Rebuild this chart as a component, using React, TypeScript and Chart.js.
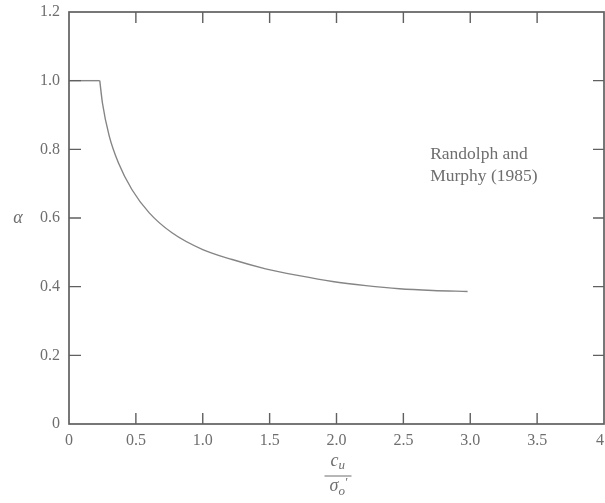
import React, { useEffect, useRef } from "react";
import { Chart, registerables } from "chart.js";

Chart.register(...registerables);

// Flat part of the curve (alpha = 1.0)
const flatX = [0, 0.23];
const flatY = [1.0, 1.0];

// Decaying part of the curve (Randolph and Murphy, 1985)
const curveX = [0.23, 0.25, 0.3, 0.37, 0.47, 0.6, 0.77, 1.0, 1.22, 1.47, 1.72, 1.97, 2.22, 2.47, 2.72, 2.98];
const curveY = [1.0, 0.935, 0.84, 0.76, 0.683, 0.615, 0.557, 0.508, 0.479, 0.452, 0.432, 0.415, 0.403, 0.394, 0.389, 0.386];

const xTickLabels: Record<string, string> = { "0": "0", "4": "4\u2002" };
const annotationLines = ["Randolph and", "Murphy (1985)"];

const SERIF = "'Liberation Serif', 'DejaVu Serif', serif";
const TEXT = "#6e6e6e";
const FRAME = "#606060";
const CURVE = "#858585";

const framePlugin = {
  id: "frameTicks",
  afterDraw(chart: any) {
    const { ctx, chartArea } = chart;
    const xs = chart.scales.x;
    const ys = chart.scales.y;
    const { left, right, top, bottom } = chartArea;
    ctx.save();
    ctx.strokeStyle = FRAME;
    ctx.lineWidth = 1.7;
    ctx.strokeRect(left, top, right - left, bottom - top);
    ctx.lineWidth = 1.4;
    const tl = 11;
    ctx.beginPath();
    xs.ticks.forEach((t: any) => {
      if (t.value <= xs.min || t.value >= xs.max) return;
      const px = xs.getPixelForValue(t.value);
      ctx.moveTo(px, bottom);
      ctx.lineTo(px, bottom - tl);
      ctx.moveTo(px, top);
      ctx.lineTo(px, top + tl);
    });
    ys.ticks.forEach((t: any) => {
      if (t.value <= ys.min + 1e-9 || t.value >= ys.max - 1e-9) return;
      const py = ys.getPixelForValue(t.value);
      ctx.moveTo(left, py);
      ctx.lineTo(left + tl + 1, py);
      ctx.moveTo(right, py);
      ctx.lineTo(right - tl, py);
    });
    ctx.stroke();

    // y-axis title alpha (upright position, centred on the axis)
    ctx.fillStyle = TEXT;
    ctx.font = `italic 18px ${SERIF}`;
    ctx.textAlign = "center";
    ctx.textBaseline = "middle";
    ctx.fillText("α", 18, (top + bottom) / 2);

    // x-axis title: c_u / sigma'_o
    const cx = xs.getPixelForValue(2) + 1;
    ctx.font = `italic 18px ${SERIF}`;
    ctx.textBaseline = "alphabetic";
    ctx.textAlign = "right";
    ctx.fillText("c", cx + 1, 466);
    ctx.font = `italic 13px ${SERIF}`;
    ctx.textAlign = "left";
    ctx.fillText("u", cx + 1, 469);
    ctx.strokeStyle = TEXT;
    ctx.lineWidth = 1;
    ctx.beginPath();
    ctx.moveTo(cx - 13, 476);
    ctx.lineTo(cx + 14, 476);
    ctx.stroke();
    ctx.font = `italic 18px ${SERIF}`;
    ctx.textAlign = "right";
    ctx.fillText("σ", cx + 1, 491);
    ctx.font = `italic 13px ${SERIF}`;
    ctx.textAlign = "left";
    ctx.fillText("o", cx + 1, 495);
    ctx.fillText("′", cx + 7, 486);

    // annotation
    ctx.font = `17.5px ${SERIF}`;
    ctx.fillStyle = TEXT;
    ctx.textAlign = "left";
    const ax = xs.getPixelForValue(2.7);
    ctx.fillText(annotationLines[0], ax, 159);
    ctx.fillText(annotationLines[1], ax, 181);
    ctx.restore();
  },
};

export default function App() {
  const ref = useRef<HTMLCanvasElement | null>(null);
  useEffect(() => {
    document.body.style.margin = "0";
    const canvas = ref.current;
    if (!canvas) return;
    const chart = new Chart(canvas, {
      type: "line",
      data: {
        datasets: [
          {
            data: flatX.map((x, i) => ({ x, y: flatY[i] })),
            borderColor: CURVE,
            borderWidth: 1.4,
            pointRadius: 0,
            tension: 0,
          },
          {
            data: curveX.map((x, i) => ({ x, y: curveY[i] })),
            borderColor: CURVE,
            borderWidth: 1.4,
            pointRadius: 0,
            cubicInterpolationMode: "monotone",
          },
        ],
      },
      options: {
        animation: false,
        responsive: false,
        maintainAspectRatio: false,
        layout: { padding: { top: 12, right: 1, left: 0, bottom: 0 } },
        plugins: { legend: { display: false }, tooltip: { enabled: false } },
        scales: {
          x: {
            type: "linear",
            min: 0,
            max: 4,
            grid: { display: false, drawTicks: false },
            border: { display: false },
            ticks: {
              stepSize: 0.5,
              padding: 7,
              color: TEXT,
              font: { family: SERIF, size: 16 },
              maxRotation: 0,
              autoSkip: false,
              callback: (v: any) => xTickLabels[String(v)] ?? Number(v).toFixed(1),
            },
            afterFit: (s: any) => {
              s.height = 79;
              s.paddingRight = 0;
              s.paddingLeft = 0;
            },
          },
          y: {
            min: 0,
            max: 1.2,
            grid: { display: false, drawTicks: false },
            border: { display: false },
            ticks: {
              stepSize: 0.2,
              padding: 9,
              color: TEXT,
              font: { family: SERIF, size: 16 },
              callback: (v: any) => (Number(v) === 0 ? "0" : Number(v).toFixed(1)),
            },
            afterFit: (s: any) => {
              s.width = 69;
              s.paddingTop = 0;
              s.paddingBottom = 0;
            },
          },
        },
      },
      plugins: [framePlugin],
    } as any);
    return () => chart.destroy();
  }, []);
  return (
    <div style={{ position: "relative", width: 605, height: 503 }}>
      <canvas ref={ref} width={605} height={503} style={{ display: "block", width: 605, height: 503 }} />
    </div>
  );
}
